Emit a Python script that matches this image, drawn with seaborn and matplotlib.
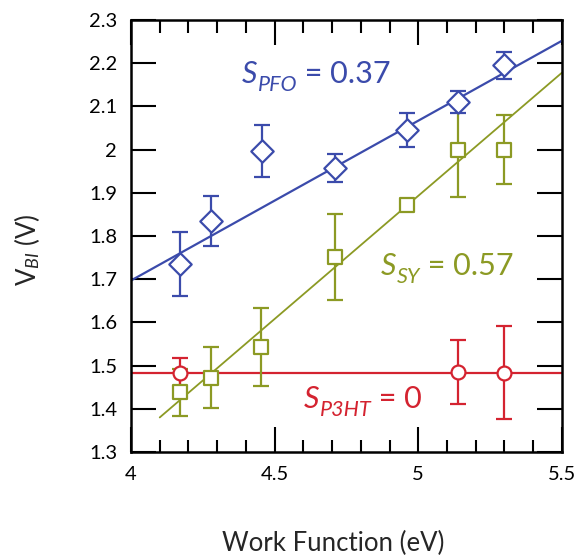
import numpy as np
import pandas as pd
import seaborn as sns
import matplotlib.pyplot as plt
from matplotlib.ticker import MultipleLocator, FormatStrFormatter

# data
pfo_wf = [4.17, 4.28, 4.455, 4.71, 4.96, 5.14, 5.30]
pfo_v = [1.735, 1.835, 1.997, 1.957, 2.045, 2.110, 2.195]
pfo_err = [0.075, 0.057, 0.06, 0.033, 0.04, 0.025, 0.032]

sy_wf = [4.17, 4.28, 4.452, 4.71, 4.96, 5.14, 5.30]
sy_v = [1.438, 1.472, 1.543, 1.752, 1.872, 2.000, 2.000]
sy_err = [0.055, 0.07, 0.09, 0.10, 0.005, 0.11, 0.08]

p3ht_wf = [4.17, 5.14, 5.30]
p3ht_v = [1.484, 1.486, 1.484]
p3ht_err = [0.034, 0.074, 0.107]

# fit lines: (x start, x end, value at x start, slope)
pfo_fit = (4.0, 5.5, 1.697, 0.37)
sy_fit = (4.1, 5.5, 1.38, 0.57)
p3ht_fit = (4.0, 5.5, 1.484, 0.0)

blue = "#3b4bab"
green = "#8c9a24"
red = "#d42330"

sns.set_style("ticks")
plt.rcParams['font.family'] = ['Lato', 'DejaVu Sans']
plt.rcParams['mathtext.fontset'] = 'custom'
plt.rcParams['mathtext.rm'] = 'Lato'
plt.rcParams['mathtext.it'] = 'Lato:italic'

fig = plt.figure(figsize=(5.81, 5.58), dpi=100)
ax = fig.add_axes([0.2255, 0.19, 0.7415, 0.774])

series = [
    (pfo_wf, pfo_v, pfo_err, pfo_fit, blue, "D", 130, 1.6),
    (sy_wf, sy_v, sy_err, sy_fit, green, "s", 100, 1.3),
    (p3ht_wf, p3ht_v, p3ht_err, p3ht_fit, red, "o", 100, 1.6),
]

for wf, v, err, fit, c, m, s, lw in series:
    x0, x1, b, k = fit
    fx = [x0, x1]
    fy = [b, b + k * (x1 - x0)]
    sns.lineplot(x=fx, y=fy, color=c, lw=lw, ax=ax, zorder=1)
    ax.errorbar(wf, v, yerr=err, fmt="none", ecolor=c, elinewidth=1.6,
                capsize=5.5, capthick=1.6, zorder=2)
    sns.scatterplot(x=wf, y=v, marker=m, s=s, color="white", edgecolor=c,
                    linewidth=1.6, ax=ax, zorder=3)

ax.set_xlim(4, 5.5)
ax.set_ylim(1.3, 2.3)
ax.xaxis.set_major_locator(MultipleLocator(0.5))
ax.xaxis.set_minor_locator(MultipleLocator(0.1))
ax.yaxis.set_major_locator(MultipleLocator(0.1))
ax.xaxis.set_major_formatter(FormatStrFormatter('%g'))
ax.yaxis.set_major_formatter(FormatStrFormatter('%g'))
ax.tick_params(which="both", direction="in", top=True, right=True,
               width=1.5, colors="black", labelsize=14.5)
ax.tick_params(which="major", length=18)
ax.tick_params(which="minor", length=9)
ax.tick_params(axis="y", pad=10)
ax.tick_params(axis="x", pad=10)
for sp in ax.spines.values():
    sp.set_linewidth(1.8)
    sp.set_color("black")

ax.set_xlabel("Work Function (eV)", fontsize=18.5)
ax.set_ylabel(r"V$_{BI}$ (V)", fontsize=18.5)
ax.xaxis.set_label_coords(0.469, -0.183)
ax.yaxis.set_label_coords(-0.207, 0.469)


def slope_label(x, y, sub, rest, color):
    t1 = ax.text(x, y, "S", fontsize=22, style="italic", color=color,
                 va="baseline")
    t2 = ax.annotate(sub, xy=(1, 0), xycoords=t1, xytext=(0.5, -5.3),
                     textcoords="offset points", fontsize=15.5,
                     style="italic", color=color, va="bottom")
    ax.annotate(rest, xy=(1, 0), xycoords=(t2, t1), xytext=(0, 0),
                textcoords="offset points", fontsize=22, color=color,
                va="bottom")


slope_label(4.385, 2.155, "PFO", " = 0.37", blue)
slope_label(4.87, 1.71, "SY", " = 0.57", green)
slope_label(4.6, 1.402, "P3HT", " = 0", red)

fig.savefig("out.png", dpi=100)
